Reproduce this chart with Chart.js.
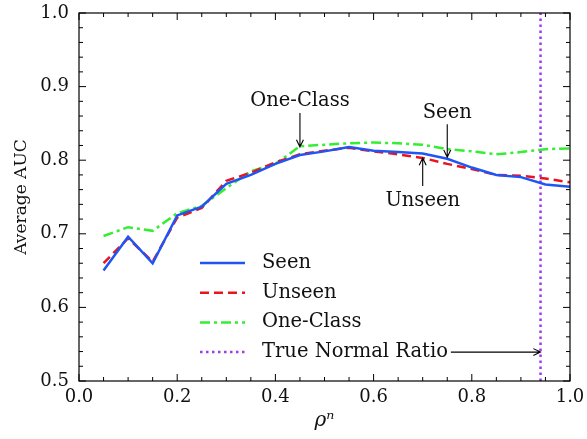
<!DOCTYPE html>
<html>
<head>
<meta charset="utf-8">
<script src="https://cdn.jsdelivr.net/npm/chart.js@4"></script>
<style>
  html,body{margin:0;padding:0;background:#fff;}
  #wrap{width:587px;height:439px;}
</style>
</head>
<body>
<div id="wrap"><canvas id="ch"></canvas></div>
<script>
// data
const rho = [0.05,0.10,0.15,0.20,0.25,0.30,0.35,0.40,0.45,0.50,0.55,0.60,0.65,0.70,0.75,0.80,0.85,0.90,0.95,1.00];
const seen     = [0.650,0.696,0.660,0.725,0.737,0.768,0.780,0.795,0.807,0.812,0.818,0.813,0.811,0.809,0.802,0.790,0.780,0.777,0.767,0.764];
const unseen   = [0.660,0.694,0.662,0.722,0.735,0.772,0.783,0.797,0.808,0.813,0.817,0.812,0.808,0.803,0.795,0.788,0.780,0.779,0.775,0.770];
const oneClass = [0.697,0.709,0.704,0.728,0.738,0.762,0.785,0.795,0.819,0.821,0.823,0.824,0.823,0.821,0.815,0.812,0.808,0.811,0.815,0.816];
const trueRatio = 0.94;
const xTicks = [0,0.2,0.4,0.6,0.8,1.0];
const yTicks = [0.5,0.6,0.7,0.8,0.9,1.0];

const C = {blue:'#1f55f5', red:'#e8141e', green:'#33ee33', purple:'#9b3cf0'};
const FONT = 'DejaVu Serif';
const FS = 18;

const pts = ys => rho.map((x,i)=>({x, y:ys[i]}));

// frame, inward ticks on all sides, annotations and legend
const decor = {
  id:'decor',
  afterDraw(chart){
    const {ctx, chartArea:a, scales:{x,y}} = chart;
    ctx.save();
    ctx.strokeStyle='#000'; ctx.lineWidth=1.2;
    ctx.strokeRect(a.left,a.top,a.right-a.left,a.bottom-a.top);
    ctx.lineWidth=1;
    ctx.beginPath();
    for(let i=0;i<=20;i++){
      const v=i*0.05, px=x.getPixelForValue(v), L=(i%4===0)?7:4;
      ctx.moveTo(px,a.bottom); ctx.lineTo(px,a.bottom-L);
      ctx.moveTo(px,a.top); ctx.lineTo(px,a.top+L);
    }
    for(let i=0;i<=25;i++){
      const v=0.5+i*0.02, py=y.getPixelForValue(v), L=(i%5===0)?7:4;
      ctx.moveTo(a.left,py); ctx.lineTo(a.left+L,py);
      ctx.moveTo(a.right,py); ctx.lineTo(a.right-L,py);
    }
    ctx.stroke();

    // annotations
    const arrow=(x1,y1,x2,y2)=>{
      ctx.beginPath(); ctx.moveTo(x1,y1); ctx.lineTo(x2,y2);
      const ang=Math.atan2(y2-y1,x2-x1), h=8;
      ctx.moveTo(x2-h*Math.cos(ang-0.45),y2-h*Math.sin(ang-0.45));
      ctx.lineTo(x2,y2);
      ctx.lineTo(x2-h*Math.cos(ang+0.45),y2-h*Math.sin(ang+0.45));
      ctx.stroke();
    };
    ctx.fillStyle='#111'; ctx.strokeStyle='#000'; ctx.lineWidth=1.1;
    ctx.font='19.5px "'+FONT+'"'; ctx.textAlign='center'; ctx.textBaseline='middle';
    let px=x.getPixelForValue(0.45);
    ctx.fillText('One-Class',px,y.getPixelForValue(0.880));
    arrow(px,y.getPixelForValue(0.864),px,y.getPixelForValue(0.818));
    px=x.getPixelForValue(0.75);
    ctx.fillText('Seen',px,y.getPixelForValue(0.864));
    arrow(px,y.getPixelForValue(0.849),px,y.getPixelForValue(0.804));
    px=x.getPixelForValue(0.70);
    ctx.fillText('Unseen',px,y.getPixelForValue(0.745));
    arrow(px,y.getPixelForValue(0.765),px,y.getPixelForValue(0.803));

    // legend
    const items=[
      ['Seen',C.blue,[]],
      ['Unseen',C.red,[9,5]],
      ['One-Class',C.green,[10,4,3,4]],
      ['True Normal Ratio',C.purple,[2.5,3.5]]
    ];
    ctx.textAlign='left';
    items.forEach(([t,col,dash],i)=>{
      const ly=263+i*29.7;
      ctx.save();
      ctx.strokeStyle=col; ctx.lineWidth=2.5; ctx.setLineDash(dash);
      ctx.beginPath(); ctx.moveTo(200,ly); ctx.lineTo(245,ly); ctx.stroke();
      ctx.restore();
      ctx.fillText(t,262,ly);
    });
    const tw=ctx.measureText('True Normal Ratio').width;
    const ly=263+3*29.7;
    ctx.lineWidth=1.1;
    arrow(262+tw+3,ly,x.getPixelForValue(trueRatio),ly);
    ctx.restore();
  }
};

new Chart(document.getElementById('ch'),{
  type:'line',
  data:{
    datasets:[
      {label:'Seen',data:pts(seen),borderColor:C.blue,borderWidth:2.5,pointRadius:0,tension:0},
      {label:'Unseen',data:pts(unseen),borderColor:C.red,borderWidth:2.5,borderDash:[9,5],pointRadius:0,tension:0},
      {label:'One-Class',data:pts(oneClass),borderColor:C.green,borderWidth:2.5,borderDash:[10,4,3,4],pointRadius:0,tension:0},
      {label:'True Normal Ratio',data:[{x:trueRatio,y:0.5},{x:trueRatio,y:1.0}],borderColor:C.purple,borderWidth:2.5,borderDash:[2.5,3.5],pointRadius:0}
    ]
  },
  options:{
    responsive:true, maintainAspectRatio:false, animation:false,
    layout:{padding:{left:0,right:17,top:13,bottom:0}},
    plugins:{legend:{display:false},tooltip:{enabled:false}},
    scales:{
      x:{type:'linear',min:0,max:1,
        afterFit:s=>{s.height=58; s.paddingRight=0; s.paddingLeft=0;},
        afterBuildTicks:s=>{s.ticks=xTicks.map(v=>({value:v}));},
        grid:{display:false,drawTicks:false},border:{display:false},
        ticks:{padding:6,color:'#111',font:{family:FONT,size:FS},callback:v=>v.toFixed(1),maxRotation:0},
        title:{display:true,text:'ρⁿ',color:'#111',font:{family:FONT,size:20,style:'italic'},padding:{bottom:6}}
      },
      y:{min:0.5,max:1.0,
        afterFit:s=>{s.width=79; s.paddingTop=0; s.paddingBottom=0;},
        afterBuildTicks:s=>{s.ticks=yTicks.map(v=>({value:v}));},
        grid:{display:false,drawTicks:false},border:{display:false},
        ticks:{padding:10,color:'#111',font:{family:FONT,size:FS},callback:v=>v.toFixed(1)},
        title:{display:true,text:'Average AUC',color:'#111',font:{family:FONT,size:17},padding:{top:11}}
      }
    }
  },
  plugins:[decor]
});
</script>
</body>
</html>
